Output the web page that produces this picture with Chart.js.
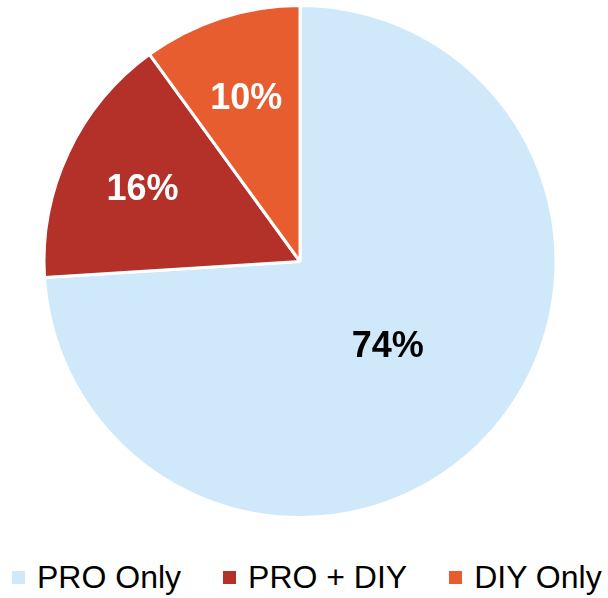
<!DOCTYPE html>
<html>
<head>
<meta charset="utf-8">
<script src="https://cdn.jsdelivr.net/npm/chart.js@4.4.1/dist/chart.umd.min.js"></script>
<style>
  html, body { margin: 0; padding: 0; background: #fff; }
  #wrap { position: relative; width: 608px; height: 598px; }
  #pieChart { position: absolute; left: 0; top: 0; }
  #legend {
    position: absolute; left: 12px; top: 561px;
    display: flex; align-items: center;
    font-family: 'Liberation Sans', Arial, sans-serif;
    font-size: 32px; line-height: 32px; color: #000;
    white-space: nowrap;
  }
  .item { display: flex; align-items: center; margin-right: 42px; }
  .swatch { width: 13px; height: 13px; margin-right: 12px; }
</style>
</head>
<body>
<div id="wrap">
  <canvas id="pieChart" width="608" height="519"></canvas>
  <div id="legend"></div>
</div>
<script>
const categories = ["PRO Only", "PRO + DIY", "DIY Only"];
const shares = [74, 16, 10];
const sliceColors = ["#D0E9FA", "#B33128", "#E85D30"];
const labelColors = ["#000000", "#ffffff", "#ffffff"];
// how far out (fraction of radius) each percentage label sits
const labelRadius = [0.47, 0.68, 0.68];

// --- draws the percentage text on each slice ---
const sliceLabels = {
  id: "sliceLabels",
  afterDatasetsDraw(chart) {
    const ctx = chart.ctx;
    const meta = chart.getDatasetMeta(0);
    const size = 36;
    ctx.save();
    ctx.font = `bold ${size}px 'Liberation Sans', Arial, sans-serif`;
    ctx.textAlign = "center";
    ctx.textBaseline = "alphabetic";
    meta.data.forEach((arc, i) => {
      const p = arc.getProps(["x", "y", "startAngle", "endAngle", "outerRadius"], true);
      const mid = (p.startAngle + p.endAngle) / 2;
      const r = p.outerRadius * labelRadius[i];
      ctx.fillStyle = labelColors[i];
      // centre the digits' cap height on the anchor point
      ctx.fillText(shares[i] + "%", p.x + Math.cos(mid) * r, p.y + Math.sin(mid) * r + size * 0.36);
    });
    ctx.restore();
  }
};

const chart = new Chart(document.getElementById("pieChart"), {
  type: "pie",
  data: {
    labels: categories,
    datasets: [{
      data: shares,
      backgroundColor: sliceColors,
      borderColor: "#ffffff",
      borderWidth: 3
    }]
  },
  options: {
    responsive: false,
    animation: false,
    layout: { padding: { top: 4, left: 0, right: 8, bottom: 0 } },
    plugins: {
      tooltip: { enabled: false },
      legend: { display: false }
    }
  },
  plugins: [sliceLabels]
});

// legend as html, built from the chart's own label list
const legendEl = document.getElementById("legend");
chart.options.plugins.legend.labels.generateLabels(chart).forEach(item => {
  const row = document.createElement("div");
  row.className = "item";
  const sw = document.createElement("span");
  sw.className = "swatch";
  sw.style.background = item.fillStyle;
  const txt = document.createElement("span");
  txt.textContent = item.text;
  row.appendChild(sw);
  row.appendChild(txt);
  legendEl.appendChild(row);
});
</script>
</body>
</html>
